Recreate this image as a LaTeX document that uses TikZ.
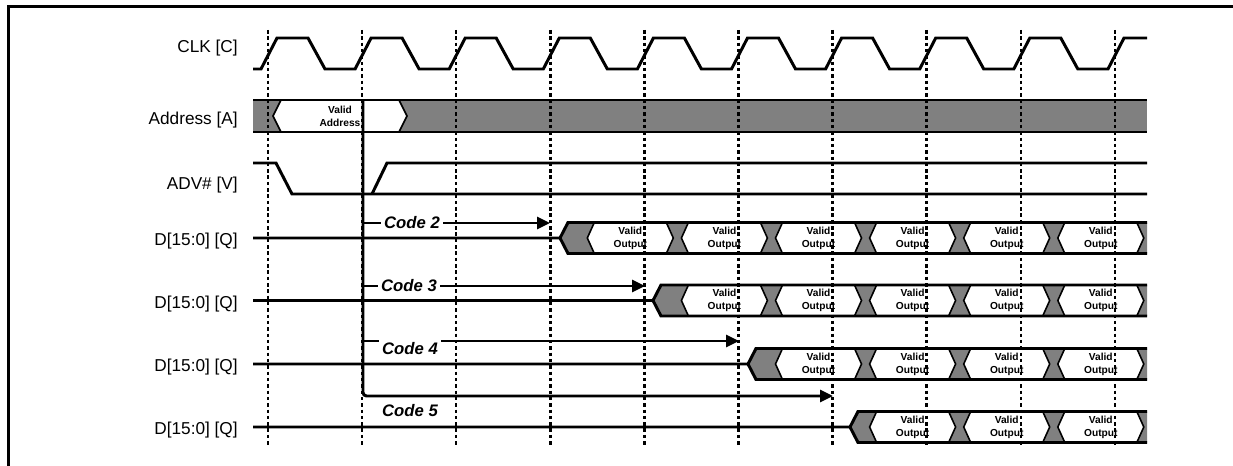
\documentclass[tikz,border=0pt]{standalone}
\usepackage{fontspec}
\setmainfont{Liberation Sans}
\usetikzlibrary{arrows.meta}
\definecolor{busgrey}{RGB}{128, 128, 128}

\begin{document}
\begin{tikzpicture}[x=0.02cm, y=-0.02cm,
        sig/.style={line width=1.7pt, line join=miter},
        hexside/.style={line width=0.9pt},
        dotgrid/.style={line width=1.4pt, dash pattern=on 2pt off 1.6pt},
        codearrow/.style={line width=1.7pt, -{Triangle[length=7.4pt, width=6.8pt]}},
        codelbl/.style={font=\fontsize{9.5}{11}\selectfont\bfseries\itshape, inner xsep=2pt, inner ysep=2.5pt},
        codecut/.style={codelbl, fill=white},
        siglbl/.style={font=\fontsize{9.8}{12}\selectfont, anchor=base east, inner sep=0pt},
        valid/.style={font=\fontsize{5.8}{7.4}\selectfont\bfseries, align=center, inner sep=0pt}]
    % Frame to fix the size:
    \useasboundingbox                                    (0, 0)      rectangle (1233, 466);
    \draw[line width=1.5pt]                              (8.5, 466)  -- (8.5, 6.5) -- (1233, 6.5);

    % Signal names:
    \node[siglbl] (lclk)  at (238, 53)    {CLK [C]};
    \node[siglbl] (laddr) at (238, 124)   {Address [A]};
    \node[siglbl] (ladv)  at (238, 189)   {ADV\# [V]};
    \node[siglbl] (lq2)   at (238, 245.5) {D[15:0] [Q]};
    \node[siglbl] (lq3)   at (238, 308)   {D[15:0] [Q]};
    \node[siglbl] (lq4)   at (238, 371)   {D[15:0] [Q]};
    \node[siglbl] (lq5)   at (238, 434.5) {D[15:0] [Q]};

    % CLK:
    \draw[sig] (253, 69) \foreach \i in {0,...,8} {
            -- ({261+94.1*\i}, 69) -- ({277+94.1*\i}, 38) -- ({308+94.1*\i}, 38) -- ({325+94.1*\i}, 69)}
        -- (1108, 69) -- (1124, 38) -- (1147, 38);

    % Address:
    \fill[busgrey]                     (253, 100) rectangle (1147, 132);
    \filldraw[fill=white, hexside]     (273, 116) -- (281, 100) -- (399, 100) -- (407, 116) -- (399, 132) -- (281, 132) -- cycle;
    \node[valid] (vaddr) at (340, 116) {Valid\\Address};
    \draw[sig]                         (253, 100) -- (1147, 100)  (253, 132) -- (1147, 132);

    % ADV#:
    \draw[sig] (253, 163) -- (276, 163) -- (292, 194) -- (1147, 194);
    \draw[sig] (372, 194) -- (387, 163) -- (1147, 163);

    % Data outputs, one row per code:
    \foreach \row/\ym/\st/\first in {2/238/560/3, 3/300.5/653/4, 4/364/748/5, 5/427/850/6} {
        \fill[busgrey] (\st, \ym) -- ({\st+8}, {\ym-15.5}) -- (1147, {\ym-15.5}) -- (1147, {\ym+15.5}) -- ({\st+8}, {\ym+15.5}) -- cycle;
        \foreach \j in {\first,...,8} {
            \filldraw[fill=white, hexside] ({305+94.1*\j}, \ym) -- ({312+94.1*\j}, {\ym-15.5}) -- ({384+94.1*\j}, {\ym-15.5})
                -- ({391+94.1*\j}, \ym) -- ({384+94.1*\j}, {\ym+15.5}) -- ({312+94.1*\j}, {\ym+15.5}) -- cycle;
            \node[valid] (v\row-\j) at ({348+94.1*\j}, \ym) {Valid\\Output};
        }
        \draw[sig] (253, \ym) -- (\st, \ym) -- ({\st+8}, {\ym-15.5}) -- (1147, {\ym-15.5});
        \draw[sig] (\st, \ym) -- ({\st+8}, {\ym+15.5}) -- (1147, {\ym+15.5});
    }

    % Latency arrows:
    \coordinate (vtop) at (363, 100);
    \coordinate (c2s)  at (363, 223);  \coordinate (c2e) at (550, 223);
    \coordinate (c3s)  at (363, 286);  \coordinate (c3e) at (645, 286);
    \coordinate (c4s)  at (363, 341);  \coordinate (c4e) at (739, 341);
    \coordinate (c5e)  at (833, 396);
    \draw[codearrow, rounded corners=2pt] (vtop) |- (c5e);
    \draw[codearrow] (c2s) -- (c2e);
    \draw[codearrow] (c3s) -- (c3e);
    \draw[codearrow] (c4s) -- (c4e);
    \node[codecut] (code2) at (412, 223) {Code 2};
    \node[codecut] (code3) at (409, 286) {Code 3};
    \node[codecut] (code4) at (410, 349) {Code 4};
    \node[codelbl] (code5) at (410, 411) {Code 5};

    % Clock edge markers:
    \foreach \i in {0,...,9}
        \draw[dotgrid] ({268+94.1*\i}, 30) -- ({268+94.1*\i}, 446);
\end{tikzpicture}
\end{document}
